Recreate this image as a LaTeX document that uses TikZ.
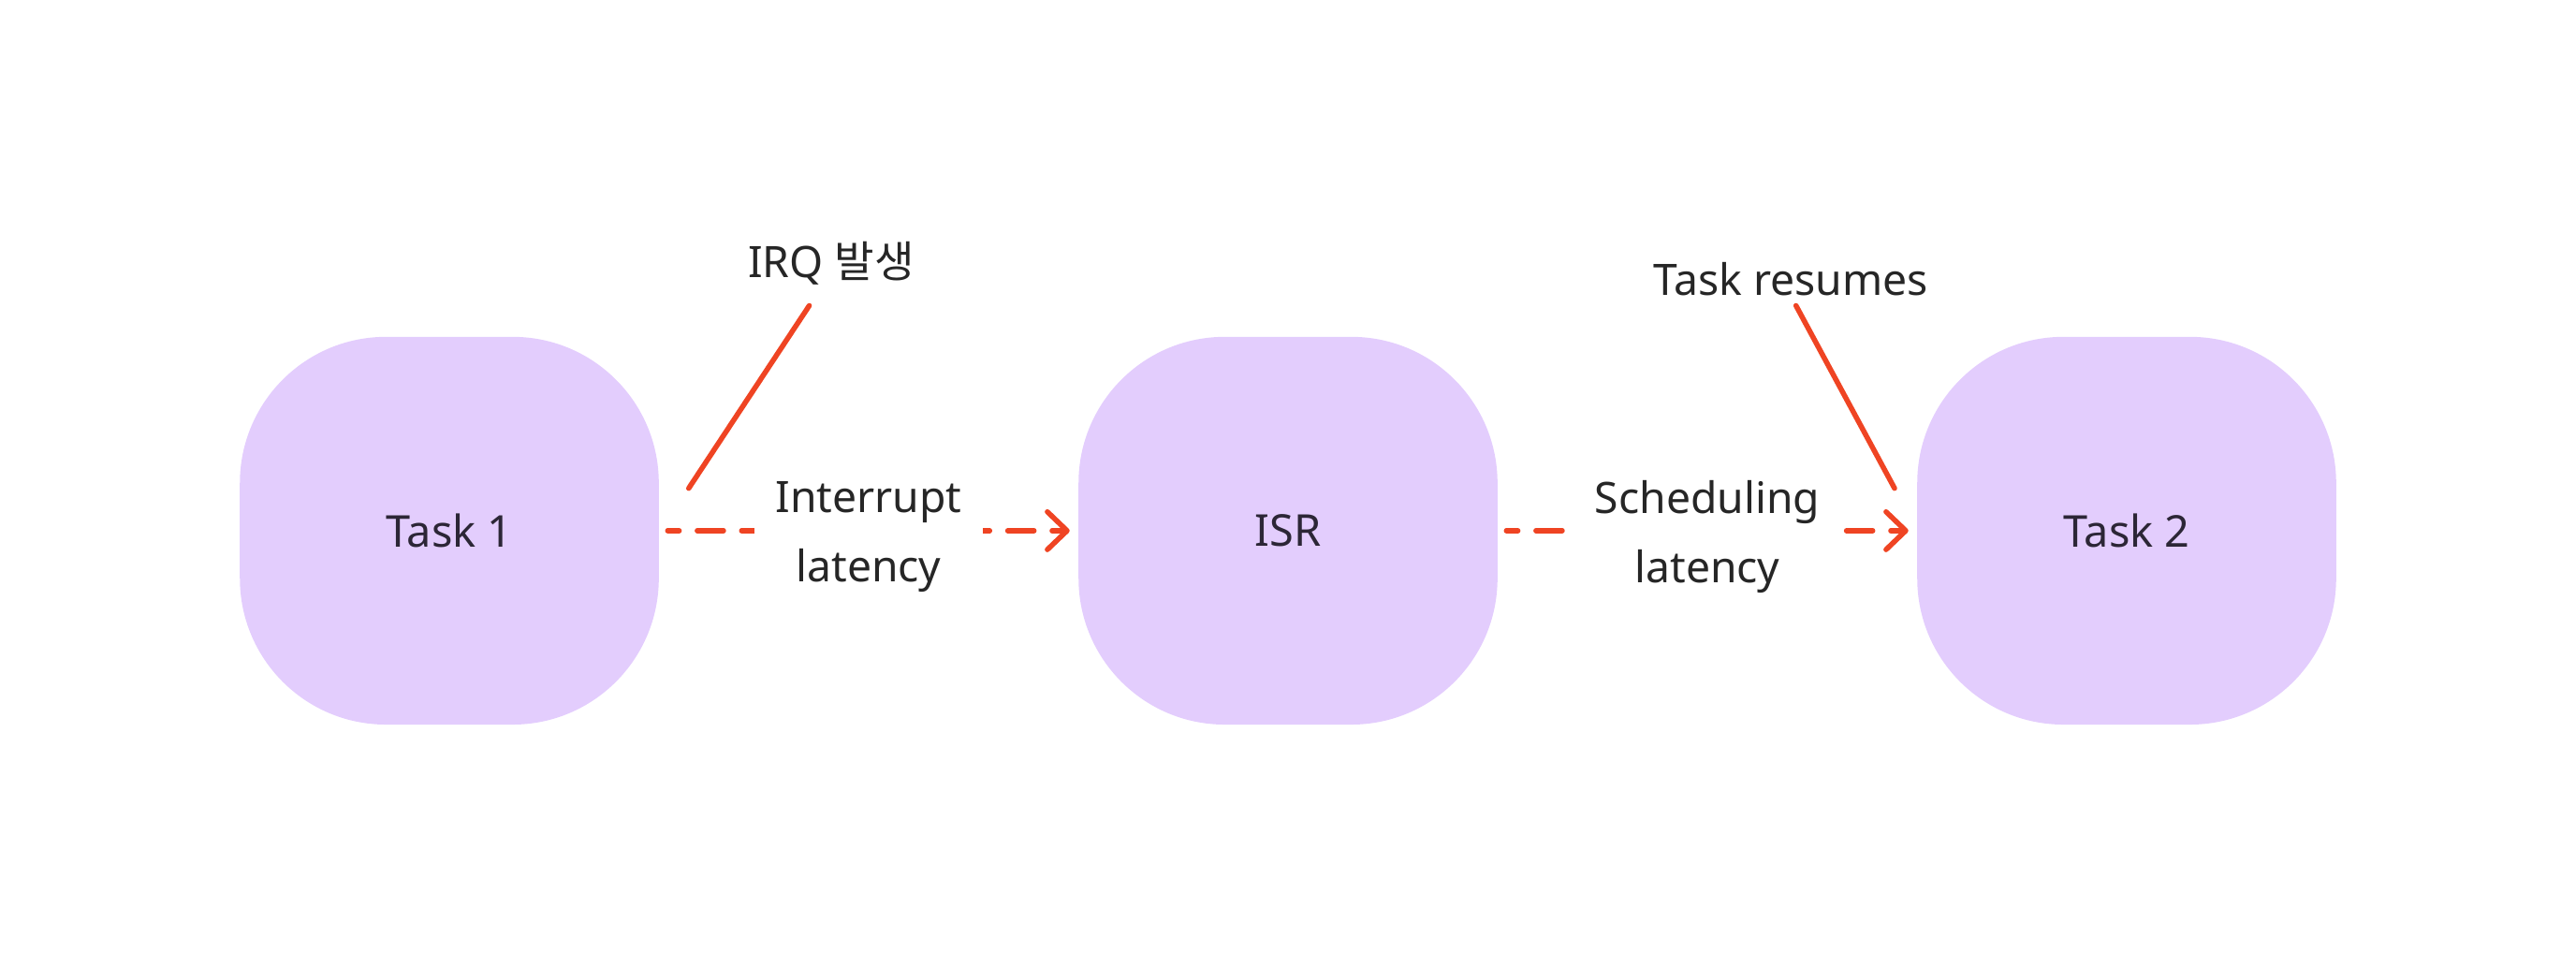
\documentclass[tikz,border=0pt]{standalone}
\usepackage{fontspec}
\setmainfont{Noto Sans}
\newfontfamily\kr{Noto Sans CJK KR}
\usetikzlibrary{positioning,arrows.meta}

\definecolor{boxfill}{HTML}{E3CDFD}
\definecolor{boxtext}{HTML}{2C2636}
\definecolor{redline}{HTML}{EF4423}
\definecolor{labeltext}{HTML}{262626}

\begin{document}
\begin{tikzpicture}[>={Straight Barb[length=1.2mm,width=2.3mm,round]},thick,
    task/.style={fill=boxfill, text=boxtext, rounded corners=0.89cm,
        minimum width=2.55cm, minimum height=2.36cm, font=\fontsize{7.6}{12}\selectfont},
    lbl/.style={text=labeltext, font=\fontsize{7.5}{12}\selectfont},
    wire/.style={draw=redline, line width=0.9pt, line cap=round}]

    \useasboundingbox (0,0) rectangle (15.68,-5.88);

    \node[task] (1) at (2.735,-3.23) {Task 1};
    \node[task, right of=1, node distance=5.105cm] (2) {ISR};
    \node[task, right of=2, node distance=5.105cm] (3) {Task 2};

    \node[lbl] (irq) at (5.06,-1.60) {IRQ {\kr 발생}};
    \node[lbl] (res) at (10.90,-1.70) {Task resumes};

    \coordinate (a1) at (4.926,-1.86);
    \coordinate (a2) at (4.192,-2.972);
    \coordinate (b1) at (10.932,-1.86);
    \coordinate (b2) at (11.532,-2.972);

    %\node[above of=irq, node distance=1cm] (ph) {};

    \path
    (1) edge[wire,->,dash pattern=on 0.16cm off 0.11cm,dash phase=0.09cm,
        shorten <=0.04cm,shorten >=0.04cm] node[lbl,fill=white,align=center,inner xsep=0.13cm,yshift=-0.04cm]{Interrupt\\latency} (2)
    (2) edge[wire,->,dash pattern=on 0.16cm off 0.11cm,dash phase=0.09cm,
        shorten <=0.04cm,shorten >=0.04cm] node[lbl,fill=white,align=center,inner xsep=0.13cm,yshift=-0.04cm]{Scheduling\\latency} (3)
    (a1) edge[wire] (a2)
    (b1) edge[wire] (b2);
\end{tikzpicture}
\end{document}
